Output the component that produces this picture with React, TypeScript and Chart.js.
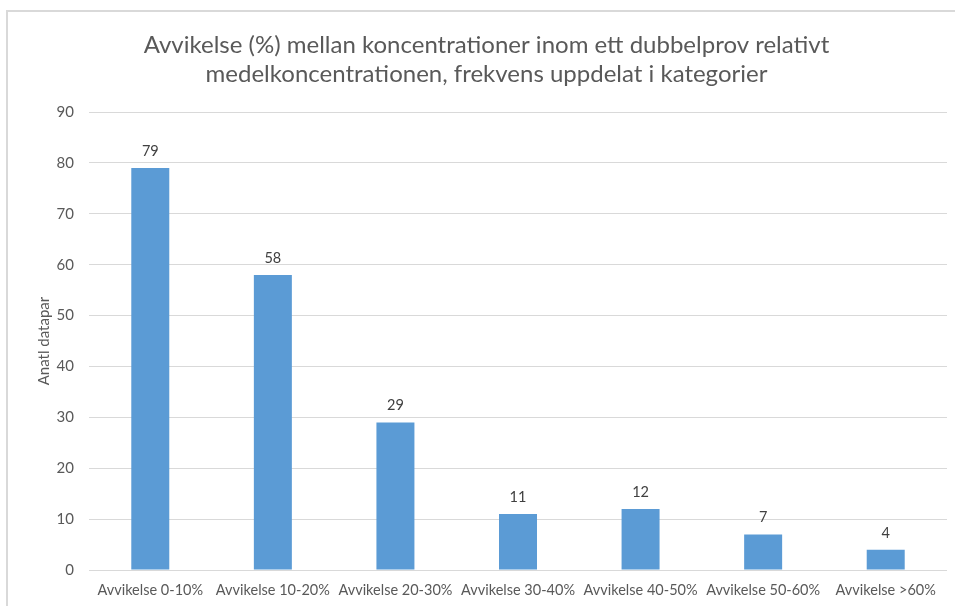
import React, { useEffect, useRef } from "react";
import { Chart, registerables } from "chart.js";

Chart.register(...registerables);

const categories = [
  "Avvikelse 0-10%",
  "Avvikelse 10-20%",
  "Avvikelse 20-30%",
  "Avvikelse 30-40%",
  "Avvikelse 40-50%",
  "Avvikelse 50-60%",
  "Avvikelse >60%",
];
const counts = [79, 58, 29, 11, 12, 7, 4];
const titleLines = [
  "Avvikelse (%) mellan koncentrationer inom ett dubbelprov relativt",
  "medelkoncentrationen, frekvens uppdelat i kategorier",
];
const yTitle = "Anatl datapar";

const FONT = "Lato, 'Open Sans', sans-serif";

const labelPlugin = {
  id: "barLabels",
  afterDatasetsDraw(chart: any) {
    const ctx = chart.ctx;
    const meta = chart.getDatasetMeta(0);
    ctx.save();
    ctx.font = `14.5px ${FONT}`;
    ctx.fillStyle = "#404040";
    ctx.textAlign = "center";
    ctx.textBaseline = "alphabetic";
    meta.data.forEach((el: any, i: number) => {
      ctx.fillText(String(counts[i]), el.x, el.y - 12);
    });
    ctx.restore();
  },
};

export default function App() {
  const ref = useRef<HTMLCanvasElement>(null);
  useEffect(() => {
    const chart = new Chart(ref.current!, {
      type: "bar",
      data: {
        labels: categories,
        datasets: [
          {
            data: counts,
            backgroundColor: "#5B9BD5",
            borderWidth: 0,
            categoryPercentage: 1,
            barPercentage: 0.31,
          },
        ],
      },
      plugins: [labelPlugin],
      options: {
        animation: false,
        responsive: false,
        maintainAspectRatio: false,
        layout: { padding: { top: 31, right: 8, bottom: 0, left: 26 } },
        plugins: {
          legend: { display: false },
          tooltip: { enabled: false },
          title: {
            display: true,
            text: titleLines,
            color: "#595959",
            font: { family: FONT, size: 24, weight: "normal", lineHeight: 1.21 },
            padding: { top: 0, bottom: 23 },
          },
        },
        scales: {
          x: {
            grid: { display: false, drawTicks: false },
            border: { display: false },
            ticks: {
              color: "#595959",
              font: { family: FONT, size: 14.5 },
              padding: 12,
              maxRotation: 0,
              autoSkip: false,
            },
            afterFit(scale: any) {
              scale.height = 36;
            },
          },
          y: {
            min: 0,
            max: 90,
            ticks: {
              stepSize: 10,
              color: "#595959",
              font: { family: FONT, size: 15 },
              padding: 15,
            },
            grid: { color: "#d9d9d9", lineWidth: 1, drawTicks: false },
            border: { display: false },
            title: {
              display: true,
              text: yTitle,
              color: "#595959",
              font: { family: FONT, size: 15 },
              padding: { top: 9, bottom: 0 },
            },
            afterFit(scale: any) {
              scale.width = 63;
            },
          },
        },
      },
    });
    return () => chart.destroy();
  }, []);

  return (
    <div
      style={{
        position: "fixed",
        left: 0,
        top: 0,
        width: 955,
        height: 606,
        background: "#fff",
        overflow: "hidden",
      }}
    >
      <canvas ref={ref} width={955} height={606} style={{ position: "absolute", left: 0, top: 0 }} />
      <div
        style={{
          position: "absolute",
          left: 6,
          top: 10,
          width: 960,
          height: 610,
          borderTop: "2px solid #d9d9d9",
          borderLeft: "2px solid #d9d9d9",
          pointerEvents: "none",
        }}
      />
    </div>
  );
}
